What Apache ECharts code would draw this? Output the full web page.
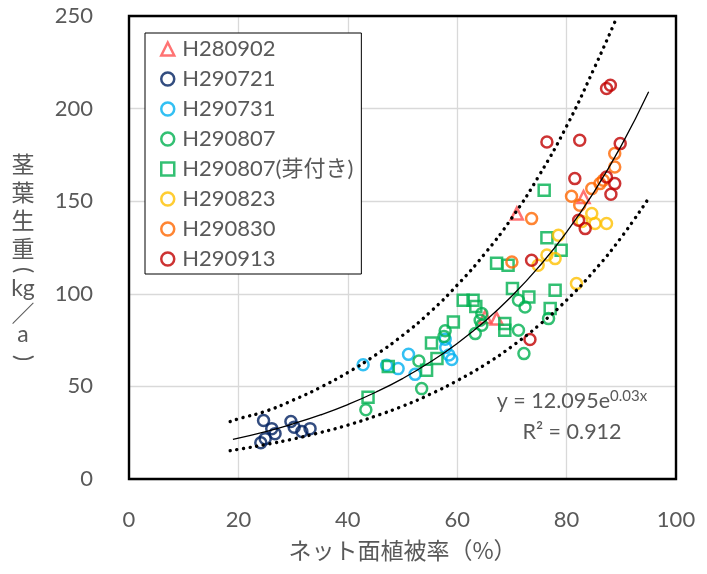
<!DOCTYPE html>
<html><head><meta charset="utf-8">
<script src="https://cdn.jsdelivr.net/npm/echarts@6/dist/echarts.min.js"></script>
<style>html,body{margin:0;padding:0;background:#fff}#c{width:707px;height:574px}</style>
</head><body><div id="c"></div>
<script>
// ---- data ----
const seriesNames = ['H280902','H290721','H290731','H290807','H290807(芽付き)','H290823','H290830','H290913'];
const h280902 = [[70.9,143.3],[83.1,152.3],[65.1,87.5],[67.2,86.6]];
const h290721 = [[24.6,31.6],[26.1,27.2],[26.7,24.5],[24.9,21.8],[24.1,19.6],[29.6,31.1],[30.2,28.0],[31.6,25.7],[33.1,27.2]];
const h290731 = [[42.8,61.7],[47.1,61.4],[49.2,59.6],[51.1,67.3],[52.3,56.5],[57.8,75.5],[57.9,71.0],[58.5,67.0],[59.0,64.5]];
const h290807 = [[43.3,37.4],[53.0,63.7],[53.5,48.8],[57.8,80.0],[57.6,77.0],[63.3,78.5],[64.5,83.0],[64.2,85.7],[64.5,89.3],[71.2,96.5],[72.4,92.9],[71.2,80.3],[72.2,67.7],[76.7,86.6]];
const h290807bud = [[43.7,44.2],[47.4,60.8],[54.4,58.7],[55.3,73.4],[56.3,65.0],[59.3,84.8],[61.1,96.5],[62.9,96.5],[63.4,93.2],[67.2,116.5],[69.3,115.4],[70.1,102.8],[73.1,98.3],[68.7,83.9],[68.7,80.3],[77.0,92.0],[77.9,101.9],[76.4,130.3],[79.0,123.5],[75.9,155.9]];
const h290823 = [[78.5,131.6],[76.4,120.9],[77.9,119.0],[74.8,115.4],[81.8,105.5],[84.6,143.3],[85.2,138.0],[82.8,139.0],[87.3,138.0]];
const h290830 = [[88.8,175.7],[88.8,168.5],[86.7,161.3],[86.1,159.5],[84.6,156.8],[80.9,152.7],[82.4,147.8],[73.6,140.6],[70.0,117.2]];
const h290913 = [[87.3,210.9],[88.0,212.6],[82.4,182.9],[89.8,181.1],[81.5,162.2],[87.3,163.1],[88.8,159.5],[88.1,153.8],[82.2,139.7],[83.4,135.2],[76.4,182.0],[73.6,118.1],[73.3,75.3]];
// trend line (y = 12.095e^0.03x) and dotted bands, read as points
const trendPts = [[19,21.4],[25,25.6],[30,29.8],[35,34.6],[40,40.2],[45,46.7],[50,54.2],[55,63.0],[60,73.2],[65,85.0],[70,98.8],[75,114.8],[80,133.3],[85,154.9],[90,180.0],[95,209.1]];
const upperPts = [[18.5,31],[20,32.5],[25,36.6],[30,42.6],[35,49.5],[40,57.5],[45,66.8],[50,77.5],[55,90],[60,104.7],[65,121.5],[70,141],[75,164],[80,190.5],[85,221.5],[89,248]];
const lowerPts = [[18.5,15.3],[20,16.0],[25,18.6],[30,21.6],[35,25.1],[40,29.1],[45,33.9],[50,39.3],[55,45.7],[60,53.1],[65,61.6],[70,71.6],[75,83.2],[80,96.6],[85,112.3],[90,130.5],[95,151.6]];
const xTicks = {min:0, max:100, step:20};
const yTicks = {min:0, max:250, step:50};
const eqLine1 = 'y = 12.095e';
const eqSup = '0.03x';
const eqLine2 = 'R² = 0.912';

// ---- styles ----
const colors = ['#ff5050','#002060','#00b0f0','#00b050','#00b050','#ffc000','#ff6600','#c00000'];
const symbols = ['triangle','circle','circle','circle','rect','circle','circle','circle'];
const sizes = [12,11,11,11,11,11,11,11];
const dataSets = [h280902,h290721,h290731,h290807,h290807bud,h290823,h290830,h290913];
const FONT = "Lato, 'Noto Sans CJK JP', sans-serif";
const JP = "'Noto Sans CJK JP', sans-serif";
const GRAY = '#595959';

const chart = echarts.init(document.getElementById('c'), null, {renderer:'canvas'});

const scatterSeries = seriesNames.map((n,i)=>({
  name:n, type:'scatter', data:dataSets[i], symbol:symbols[i], symbolSize:sizes[i],
  itemStyle:{color:'rgba(255,255,255,0)', borderColor:colors[i], borderWidth:2.5},
  z:2
}));
const dotted = {color:'#000', width:3.4, type:[0.1,6.6], cap:'round'};
const lineSeries = [
  {name:'trend', type:'line', data:trendPts, smooth:true, symbol:'none', silent:true, lineStyle:{color:'#000', width:1.3}, z:3},
  {name:'upper', type:'line', data:upperPts, smooth:true, symbol:'none', silent:true, lineStyle:dotted, z:3},
  {name:'lower', type:'line', data:lowerPts, smooth:true, symbol:'none', silent:true, lineStyle:dotted, z:3}
];

// vertical axis title, stacked characters (parentheses turned for vertical writing)
const yTitleParts = [
  {t:'茎', y:164, f:JP, r:0}, {t:'葉', y:192, f:JP, r:0}, {t:'生', y:220, f:JP, r:0}, {t:'重', y:248, f:JP, r:0},
  {t:'(', y:270, f:FONT, r:-Math.PI/2}, {t:'kg', y:289, f:FONT, r:0}, {t:'／', y:313, f:JP, r:0},
  {t:'a', y:335, f:FONT, r:0}, {t:')', y:358, f:FONT, r:-Math.PI/2}
];

chart.setOption({
  animation:false,
  backgroundColor:'#fff',
  grid:{left:129, right:31, top:16, bottom:95, show:true, borderColor:'#000', borderWidth:2.4, backgroundColor:'transparent', z:10},
  xAxis:{type:'value', min:xTicks.min, max:xTicks.max, interval:xTicks.step,
    axisLine:{show:false}, axisTick:{show:false},
    splitLine:{lineStyle:{color:'#d9d9d9', width:1.3}},
    axisLabel:{fontSize:22, color:GRAY, fontFamily:FONT, margin:30},
    name:'ネット面植被率（%）', nameLocation:'middle', nameGap:60,
    nameTextStyle:{fontSize:23, color:GRAY, fontFamily:JP}
  },
  yAxis:{type:'value', min:yTicks.min, max:yTicks.max, interval:yTicks.step,
    axisLine:{show:false}, axisTick:{show:false},
    splitLine:{lineStyle:{color:'#d9d9d9', width:1.3}},
    axisLabel:{fontSize:22, color:GRAY, fontFamily:FONT, margin:36}
  },
  legend:{orient:'vertical', left:145, top:33, padding:[5,8,4,15], itemGap:8,
    itemWidth:13, itemHeight:13, backgroundColor:'#fff', borderColor:'#000', borderWidth:1,
    textStyle:{fontSize:22, lineHeight:22, color:GRAY, fontFamily:FONT, padding:[0,0,0,3]},
    data:seriesNames.map(n=>({name:n, itemStyle:{borderWidth:2.5}})), z:20
  },
  graphic:[
    ...yTitleParts.map(p=>({type:'text', x:23, y:p.y, rotation:p.r, z:100, style:{
      text:p.t, align:'center', verticalAlign:'middle', fill:GRAY, fontSize:23, fontFamily:p.f}})),
    {type:'text', x:572, y:401, z:100, style:{
      text:'{a|'+eqLine1+'}{s|'+eqSup+'}', align:'center', verticalAlign:'middle', fill:GRAY,
      rich:{
        a:{fontSize:21.5, lineHeight:24, fontFamily:FONT, fill:GRAY},
        s:{fontSize:15, lineHeight:24, fontFamily:FONT, fill:GRAY, verticalAlign:'top', padding:[0,0,10,0]}
      }}},
    {type:'text', x:572, y:432, z:100, style:{
      text:eqLine2, align:'center', verticalAlign:'middle', fill:GRAY, fontSize:21.5, fontFamily:FONT}}
  ],
  series:[...scatterSeries, ...lineSeries]
});
</script></body></html>
